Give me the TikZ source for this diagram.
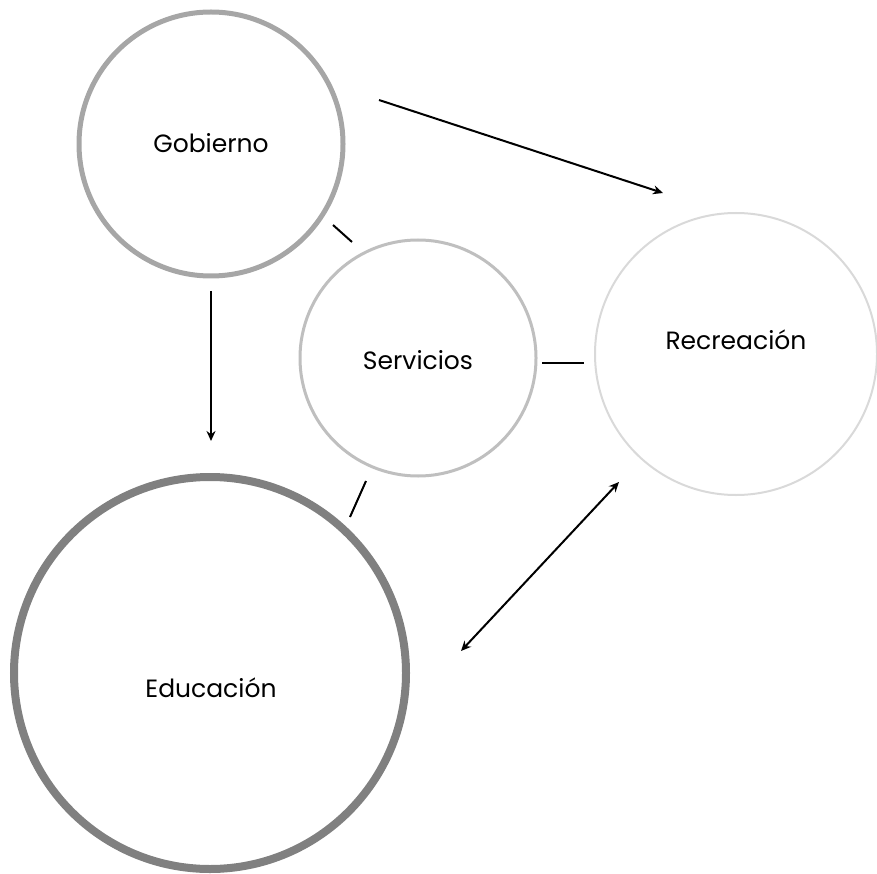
\documentclass[tikz,border=0pt]{standalone}
\usepackage{fontspec}
\setmainfont{Poppins}
\usetikzlibrary{arrows.meta}
\begin{document}
\begin{tikzpicture}[x=1pt,y=-1pt,
  bubble/.style={circle,inner sep=0pt},
  label text/.style={font=\fontsize{25}{30}\selectfont},
  link/.style={line width=2pt,black},
  tip/.style={-{Stealth[length=10pt,width=9pt]}}]
\useasboundingbox (0,0) rectangle (877,874);
% circles
\node[bubble,draw={rgb,255:red,166;green,166;blue,166},line width=5pt,minimum size=264pt] (gob) at (211,144) {};
\node[bubble,draw={rgb,255:red,191;green,191;blue,191},line width=3pt,minimum size=236pt] (ser) at (418,358) {};
\node[bubble,draw={rgb,255:red,217;green,217;blue,217},line width=2pt,minimum size=282pt] (rec) at (736,354) {};
\node[bubble,draw={rgb,255:red,128;green,128;blue,128},line width=8pt,minimum size=392pt] (edu) at (210,673) {};
% labels
\node[label text] (gobt) at (211,143) {Gobierno};
\node[label text] (sert) at (418,360) {Servicios};
\node[label text] (rect) at (736,340) {Recreación};
\node[label text] (edut) at (211,688) {Educación};
% connector end points
\coordinate (a1) at (211,291); \coordinate (a2) at (211,441);
\coordinate (b1) at (379,100); \coordinate (b2) at (663,193);
\coordinate (c1) at (461,651); \coordinate (c2) at (619,482);
\coordinate (d1) at (333,225); \coordinate (d2) at (352,242);
\coordinate (e1) at (542,363); \coordinate (e2) at (584,363);
\coordinate (f1) at (366,481); \coordinate (f2) at (350,517);
% connectors
\draw[link,tip] (a1) -- (a2);
\draw[link,tip] (b1) -- (b2);
\draw[link,{Stealth[length=10pt,width=9pt]}-{Stealth[length=10pt,width=9pt]}] (c1) -- (c2);
\draw[link] (d1) -- (d2);
\draw[link] (e1) -- (e2);
\draw[link] (f1) -- (f2);
\end{tikzpicture}
\end{document}
